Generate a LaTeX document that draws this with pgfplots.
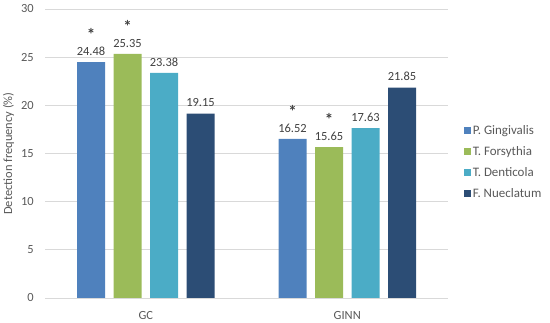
\documentclass[border=0pt]{standalone}
\usepackage{fontspec}
\setmainfont{Carlito}
\usepackage{pgfplots}
\pgfplotsset{compat=1.18}
\definecolor{cP}{HTML}{4F81BD}
\definecolor{cT}{HTML}{9BBB59}
\definecolor{cD}{HTML}{4BACC6}
\definecolor{cF}{HTML}{2C4D75}
\definecolor{txt}{HTML}{595959}
\definecolor{val}{HTML}{404040}
\definecolor{grd}{HTML}{D9D9D9}
\pgfplotsset{
  sqlegend/.style={legend image code/.code={\fill[##1] (0bp,-3.5bp) rectangle (7bp,3.5bp);}},
  star/.style={every node near coord/.append style={label={[inner sep=0pt, label distance=3bp, text=val, font=\fontsize{17}{17}\selectfont\bfseries]90:*}}},
}
\begin{document}
\begin{tikzpicture}
\path[use as bounding box] (0,0) rectangle (550bp,323bp);
\begin{axis}[
  at={(45bp,25bp)}, anchor=south west,
  width=403bp, height=289bp, scale only axis,
  ybar=8.5bp, bar width=28bp,
  xmin=-0.5, xmax=1.5, ymin=0, ymax=30,
  xtick={0,1}, xticklabels={GC,GINN},
  ytick={0,5,...,30},
  /pgf/number format/assume math mode=true,
  ymajorgrids, grid style={grd, line width=0.9bp},
  axis line style={draw=none}, tick style={draw=none},
  font=\fontsize{12.5}{15}\selectfont,
  tick label style={text=txt},
  yticklabel style={inner sep=0pt, xshift=-11bp},
  xticklabel style={yshift=-6bp},
  ylabel={Detection frequency (\%)},
  every axis y label/.style={at={(rel axis cs:-0.0906,0.5)}, rotate=90, anchor=center, text=txt},
  legend style={at={(1.040,0.4706)}, anchor=west, draw=none, fill=none,
    row sep=7.5bp, text=txt, inner sep=0pt, font=\fontsize{13}{15}\selectfont,
    nodes={inner sep=1.5bp, anchor=west}},
  legend cell align=left,
  nodes near coords={\pgfmathprintnumber[fixed,precision=2,fixed zerofill]{\pgfplotspointmeta}},
  every node near coord/.append style={text=val, yshift=3bp},
]
\addplot[fill=cP, draw=none, sqlegend, star]
  coordinates {(0,24.48) (1,16.52)};
\addlegendentry{P. Gingivalis}
\addplot[fill=cT, draw=none, sqlegend, star]
  coordinates {(0,25.35) (1,15.65)};
\addlegendentry{T. Forsythia}
\addplot[fill=cD, draw=none, sqlegend]
  coordinates {(0,23.38) (1,17.63)};
\addlegendentry{T. Denticola}
\addplot[fill=cF, draw=none, sqlegend]
  coordinates {(0,19.15) (1,21.85)};
\addlegendentry{F. Nueclatum}
\end{axis}
\end{tikzpicture}
\end{document}
